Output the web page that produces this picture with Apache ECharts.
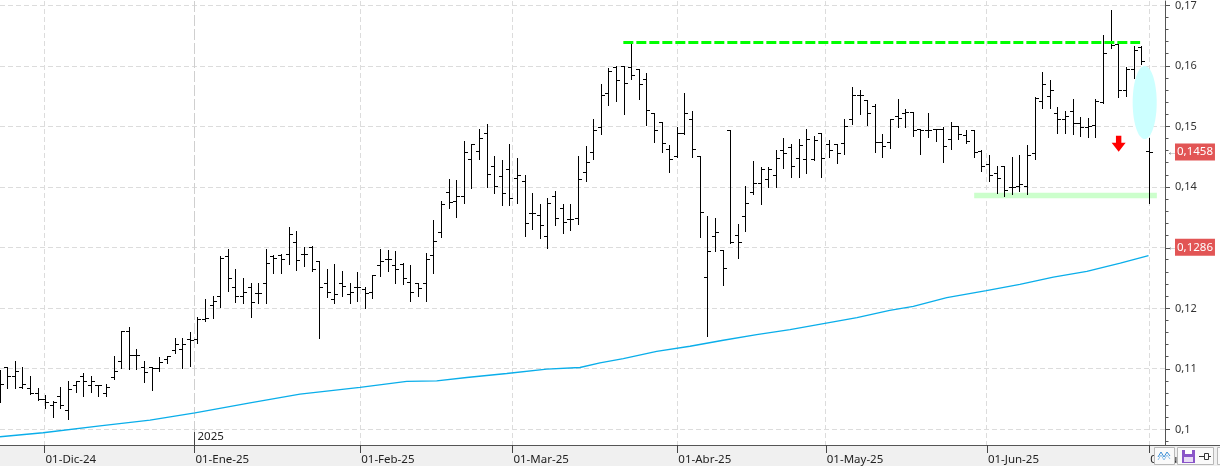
<!DOCTYPE html>
<html>
<head>
<meta charset="utf-8">
<script src="https://cdn.jsdelivr.net/npm/echarts@6/dist/echarts.min.js"></script>
<style>
html,body{margin:0;padding:0;background:#fff;}
#chart{width:1220px;height:466px;}
</style>
</head>
<body>
<div id="chart"></div>
<script>
// ---- data (bar index 0 = 22-Nov-24 ... 151 = 01-Jul-25) ----
const monthTickPos = [5.85, 25.55, 47.33, 67.33, 89, 108.5, 129.67, 151];
const monthTickLabels = ['01-Dic-24','01-Ene-25','01-Feb-25','01-Mar-25','01-Abr-25','01-May-25','01-Jun-25','01-Jul-25'];
const yTicks = [0.10, 0.11, 0.12, 0.13, 0.14, 0.15, 0.16, 0.17];

const open = [
0.1087,0.1103,0.1087,0.1070,0.1068,0.1059,0.1050,0.1040,0.1055,0.1032,
0.1072,0.1087,0.1072,0.1072,0.1059,0.1086,0.1112,0.1162,0.1123,0.1102,
0.1102,0.1101,0.1116,0.1131,0.1132,0.1148,0.1148,0.1181,0.1204,0.1220,
0.1286,0.1235,0.1219,0.1235,0.1225,0.1241,0.1285,0.1288,0.1289,0.1309,
0.1289,0.1301,0.1278,0.1241,0.1215,0.1241,0.1223,0.1235,0.1231,0.1227,
0.1270,0.1280,0.1270,0.1273,0.1243,0.1241,0.1241,0.1287,0.1325,0.1391,
0.1376,0.1385,0.1445,0.1459,0.1488,0.1434,0.1418,0.1430,0.1414,0.1409,
0.1357,0.1353,0.1318,0.1384,0.1365,0.1347,0.1348,0.1424,0.1457,0.1498,
0.1554,0.1597,0.1600,0.1597,0.1595,0.1578,0.1522,0.1507,0.1462,0.1451,
0.1488,0.1511,0.1451,0.1251,0.1319,0.1295,0.1493,0.1320,0.1351,0.1392,
0.1406,0.1413,0.1419,0.1460,0.1465,0.1448,0.1446,0.1445,0.1488,0.1470,
0.1470,0.1473,0.1511,0.1552,0.1543,0.1533,0.1474,0.1474,0.1516,0.1521,
0.1524,0.1496,0.1493,0.1495,0.1495,0.1478,0.1500,0.1485,0.1494,0.1459,
0.1438,0.1422,0.1434,0.1399,0.1401,0.1401,0.1455,0.1541,0.1550,0.1521,
0.1511,0.1525,0.1506,0.1499,0.1502,0.1540,0.1638,0.1636,0.1559,0.1595,
0.1631,0.1459];
const high = [
0.1098,0.1103,0.1112,0.1103,0.1088,0.1068,0.1057,0.1046,0.1070,0.1079,
0.1079,0.1093,0.1087,0.1073,0.1075,0.1121,0.1162,0.1169,0.1132,0.1113,
0.1102,0.1119,0.1121,0.1150,0.1150,0.1161,0.1185,0.1215,0.1220,0.1285,
0.1297,0.1264,0.1249,0.1241,0.1241,0.1298,0.1287,0.1289,0.1334,0.1327,
0.1301,0.1302,0.1278,0.1265,0.1273,0.1261,0.1241,0.1259,0.1235,0.1255,
0.1297,0.1295,0.1294,0.1274,0.1270,0.1241,0.1290,0.1345,0.1376,0.1413,
0.1411,0.1475,0.1471,0.1495,0.1504,0.1450,0.1444,0.1471,0.1447,0.1419,
0.1389,0.1371,0.1382,0.1393,0.1371,0.1371,0.1450,0.1467,0.1511,0.1569,
0.1596,0.1599,0.1600,0.1639,0.1595,0.1587,0.1522,0.1507,0.1469,0.1498,
0.1555,0.1525,0.1451,0.1351,0.1348,0.1296,0.1493,0.1339,0.1402,0.1442,
0.1432,0.1432,0.1460,0.1480,0.1470,0.1478,0.1496,0.1483,0.1489,0.1477,
0.1471,0.1511,0.1564,0.1560,0.1543,0.1536,0.1487,0.1511,0.1544,0.1529,
0.1524,0.1496,0.1521,0.1496,0.1499,0.1507,0.1500,0.1493,0.1494,0.1460,
0.1452,0.1434,0.1434,0.1449,0.1452,0.1469,0.1548,0.1590,0.1577,0.1531,
0.1525,0.1544,0.1515,0.1513,0.1545,0.1651,0.1691,0.1637,0.1598,0.1632,
0.1632,0.1481];
const low = [
0.1046,0.1069,0.1069,0.1069,0.1059,0.1050,0.1037,0.1021,0.1036,0.1019,
0.1062,0.1056,0.1062,0.1057,0.1056,0.1084,0.1102,0.1101,0.1101,0.1079,
0.1066,0.1098,0.1110,0.1127,0.1102,0.1105,0.1143,0.1180,0.1185,0.1203,
0.1230,0.1212,0.1209,0.1187,0.1209,0.1209,0.1260,0.1260,0.1274,0.1264,
0.1270,0.1262,0.1152,0.1219,0.1209,0.1222,0.1209,0.1213,0.1202,0.1218,
0.1254,0.1262,0.1242,0.1241,0.1213,0.1222,0.1213,0.1260,0.1318,0.1366,
0.1352,0.1375,0.1400,0.1448,0.1402,0.1391,0.1371,0.1371,0.1375,0.1321,
0.1332,0.1317,0.1301,0.1338,0.1326,0.1330,0.1340,0.1411,0.1448,0.1488,
0.1536,0.1543,0.1521,0.1580,0.1547,0.1504,0.1476,0.1459,0.1426,0.1450,
0.1488,0.1450,0.1319,0.1156,0.1296,0.1240,0.1308,0.1284,0.1328,0.1389,
0.1373,0.1402,0.1401,0.1432,0.1417,0.1417,0.1424,0.1445,0.1418,0.1450,
0.1441,0.1455,0.1506,0.1521,0.1504,0.1459,0.1451,0.1466,0.1501,0.1501,
0.1485,0.1456,0.1483,0.1477,0.1442,0.1464,0.1480,0.1474,0.1450,0.1427,
0.1411,0.1392,0.1386,0.1390,0.1394,0.1390,0.1447,0.1531,0.1531,0.1491,
0.1491,0.1488,0.1486,0.1484,0.1484,0.1540,0.1631,0.1550,0.1551,0.1581,
0.1605,0.1375];
const close = [
0.1075,0.1088,0.1095,0.1075,0.1059,0.1050,0.1044,0.1045,0.1039,0.1066,
0.1079,0.1080,0.1079,0.1072,0.1070,0.1095,0.1162,0.1123,0.1123,0.1094,
0.1101,0.1110,0.1121,0.1141,0.1141,0.1147,0.1181,0.1184,0.1212,0.1283,
0.1249,0.1219,0.1226,0.1209,0.1224,0.1274,0.1282,0.1281,0.1322,0.1279,
0.1289,0.1264,0.1235,0.1227,0.1223,0.1236,0.1226,0.1235,0.1225,0.1255,
0.1278,0.1280,0.1264,0.1250,0.1226,0.1233,0.1281,0.1310,0.1371,0.1375,
0.1385,0.1457,0.1471,0.1480,0.1421,0.1402,0.1389,0.1382,0.1420,0.1340,
0.1356,0.1336,0.1373,0.1348,0.1342,0.1347,0.1412,0.1440,0.1493,0.1551,
0.1591,0.1577,0.1572,0.1585,0.1569,0.1526,0.1494,0.1473,0.1446,0.1488,
0.1522,0.1462,0.1358,0.1294,0.1325,0.1266,0.1309,0.1308,0.1373,0.1406,
0.1429,0.1429,0.1447,0.1455,0.1434,0.1469,0.1479,0.1477,0.1448,0.1461,
0.1455,0.1501,0.1551,0.1551,0.1522,0.1474,0.1467,0.1511,0.1513,0.1524,
0.1494,0.1494,0.1494,0.1495,0.1467,0.1500,0.1487,0.1476,0.1458,0.1434,
0.1419,0.1415,0.1395,0.1399,0.1404,0.1452,0.1547,0.1569,0.1559,0.1512,
0.1516,0.1506,0.1498,0.1501,0.1542,0.1621,0.1634,0.1559,0.1595,0.1625,
0.1607,0.1458];

// moving average read at [bar index, value]
const maPoints = [
[0,0.09881],[5.65,0.09947],[13.14,0.10062],[19.71,0.10156],[25.62,0.10276],
[32.85,0.10441],[39.42,0.10584],[47.3,0.10695],[53.44,0.10794],[57.38,0.10803],
[61.32,0.10859],[66.58,0.10925],[71.83,0.10996],[76.2,0.11024],[78.83,0.11100],
[81.9,0.11172],[86.28,0.11292],[90.66,0.11375],[95.03,0.11474],[99.42,0.11568],
[103.8,0.11650],[108.2,0.11749],[112.6,0.11848],[116.9,0.11968],[120.0,0.12034],
[124.4,0.12177],[129.6,0.12292],[134.0,0.12396],[138.4,0.12516],[142.8,0.12610],
[147.2,0.12747],[150.9,0.12869]];

const resistance = [[81.9,0.1639],[149.8,0.1639]];
const support = [[128.0,0.13862],[152.0,0.13862]];
const highlightEllipse = [[150.4,0.15399,1.58,0.00604]]; // x, y, half-width, half-height
const downArrow = [[146.98,0.1485]];
const priceTags = [
  {value:0.1458, label:'0,1458', shift:0},
  {value:0.1286, label:'0,1286', shift:-9}
];
const yearLabel = {x:25.55, text:'2025'};

// ---- chart ----
const Y_MIN = 0.097447, Y_MAX = 0.170741, X_MIN = 0, X_MAX = 153.07;
const FONT = 'Noto Sans';
const minorTicks = [];
for (let k = 49; k <= 85; k++) { if (k % 5 !== 0) minorTicks.push(k * 0.002); }
const fmtY = v => (Math.round(v * 100) / 100).toString().replace('.', ',');

const chart = echarts.init(document.getElementById('chart'), null, {renderer:'canvas'});

const ohlcData = open.map((o, k) => [k, o, high[k], low[k], close[k]]);

function crisp(v){ return Math.floor(v) + 0.5; }

const option = {
  animation:false,
  backgroundColor:'#ffffff',
  grid:{left:0, right:55, top:0, bottom:21, containLabel:false},
  xAxis:{
    type:'value', min:X_MIN, max:X_MAX, z:10,
    axisLine:{show:true, onZero:false, lineStyle:{color:'#555', width:1}},
    splitLine:{show:false},
    axisTick:{show:true, customValues:monthTickPos, length:8, lineStyle:{color:'#444'}},
    axisLabel:{
      customValues:monthTickPos, align:'left', margin:9,
      color:'#222', fontFamily:FONT, fontSize:11.5, padding:[0,0,0,1],
      formatter:(v) => {
        let best = 0;
        monthTickPos.forEach((p, i) => { if (Math.abs(p - v) < Math.abs(monthTickPos[best] - v)) best = i; });
        return monthTickLabels[best];
      }
    }
  },
  yAxis:{
    type:'value', position:'right', min:Y_MIN, max:Y_MAX,
    axisLine:{show:true, onZero:false, lineStyle:{color:'#555', width:1}},
    splitLine:{show:false},
    axisTick:{show:true, customValues:yTicks, length:5, lineStyle:{color:'#555'}},
    axisLabel:{customValues:yTicks, formatter:fmtY, margin:10, color:'#333', fontFamily:FONT, fontSize:11}
  },
  series:[
    { // horizontal grid
      type:'custom', z:1, silent:true, clip:true,
      data: yTicks.map(v => [X_MIN, v]),
      renderItem:(params, api) => {
        const p = api.coord([X_MIN, api.value(1)]);
        const cs = params.coordSys, y = crisp(p[1]);
        return {type:'line', shape:{x1:cs.x, y1:y, x2:cs.x + cs.width, y2:y},
          style:{stroke:'#dcdcdc', lineWidth:1, lineDash:[5,3]}};
      }
    },
    { // vertical month grid
      type:'custom', z:1, silent:true, clip:true,
      data: monthTickPos.map(v => [v, Y_MIN]),
      renderItem:(params, api) => {
        const p = api.coord([api.value(0), Y_MIN]);
        const cs = params.coordSys, x = crisp(p[0]);
        const isYear = params.dataIndex === 1;
        return {type:'line', shape:{x1:x, y1:cs.y, x2:x, y2:cs.y + cs.height},
          style:{stroke: isYear ? '#cfcfcf' : '#dcdcdc', lineWidth:1, lineDash: isYear ? [11,3] : [5,3]}};
      }
    },
    { // minor ticks on the price axis
      type:'custom', z:6, silent:true, clip:false,
      data: minorTicks.map(v => [X_MAX, v]),
      renderItem:(params, api) => {
        const p = api.coord([X_MAX, api.value(1)]);
        const cs = params.coordSys, y = crisp(p[1]), x = cs.x + cs.width;
        return {type:'line', shape:{x1:x, y1:y, x2:x + 3.5, y2:y}, style:{stroke:'#555', lineWidth:1}};
      }
    },
    { // support zone
      type:'line', z:2, data:support, symbol:'none', silent:true,
      lineStyle:{color:'#ccffcc', width:5.5}
    },
    { // OHLC bars
      type:'custom', z:3, clip:true,
      data: ohlcData,
      encode:{x:0, y:[1,2,3,4]},
      renderItem:(params, api) => {
        const i = api.value(0);
        const pO = api.coord([i, api.value(1)]);
        const pH = api.coord([i, api.value(2)]);
        const pL = api.coord([i, api.value(3)]);
        const pC = api.coord([i, api.value(4)]);
        if (![pO[1], pH[1], pL[1], pC[1], pH[0]].every(isFinite)) return null;
        const x = crisp(pH[0]);
        const yo = crisp(pO[1]), yc = crisp(pC[1]);
        const st = {stroke:'#000', lineWidth:1};
        return {type:'group', children:[
          {type:'line', shape:{x1:x, y1:Math.floor(pH[1]), x2:x, y2:Math.ceil(pL[1]) + 1}, style:st},
          {type:'line', shape:{x1:x - 3.5, y1:yo, x2:x, y2:yo}, style:st},
          {type:'line', shape:{x1:x, y1:yc, x2:x + 3.5, y2:yc}, style:st}
        ]};
      }
    },
    { // moving average
      type:'line', z:4, data:maPoints, symbol:'none', silent:true,
      lineStyle:{color:'#0aaeea', width:1.3}
    },
    { // resistance dashed line
      type:'line', z:5, data:resistance, symbol:'none', silent:true,
      lineStyle:{color:'#00ff00', width:3, type:[10,3]}
    },
    { // highlight ellipse
      type:'custom', z:5, silent:true,
      data: highlightEllipse,
      renderItem:(params, api) => {
        const c = api.coord([api.value(0), api.value(1)]);
        const rx = api.size([api.value(2), 0])[0];
        const ry = api.size([0, api.value(3)])[1];
        const pts = [];
        for (let k = 0; k < 72; k++) {
          const a = k / 72 * Math.PI * 2;
          pts.push([c[0] + rx * Math.cos(a), c[1] + ry * Math.sin(a)]);
        }
        return {type:'polygon', shape:{points:pts}, style:{fill:'#ccffff'}};
      }
    },
    { // red down arrow
      type:'custom', z:5, silent:true,
      data: downArrow,
      renderItem:(params, api) => {
        const t = api.coord([api.value(0), api.value(1)]);
        const x = t[0], y = t[1];
        return {type:'polygon', shape:{points:[
          [x - 2.7, y], [x + 2.7, y], [x + 2.7, y + 7], [x + 7, y + 7],
          [x, y + 16], [x - 7, y + 7], [x - 2.7, y + 7]
        ]}, style:{fill:'#ff0000'}};
      }
    }
  ]
};
chart.setOption(option);

// price tags, bottom band, year marker, toolbar buttons
const axisRight = chart.convertToPixel({xAxisIndex:0}, X_MAX);
const tagGraphics = [];
priceTags.forEach(t => {
  const py = chart.convertToPixel({yAxisIndex:0}, t.value) + t.shift;
  tagGraphics.push({type:'text', z:50, silent:true, x:axisRight + 2, y:py,
    style:{text:'\u2190', fill:'#555', font:'10px "Noto Sans"', textVerticalAlign:'middle'}});
  tagGraphics.push({type:'text', z:50, silent:true, x:axisRight + 10, y:py,
    style:{text:t.label, fill:'#ffffff', font:'11.5px "Noto Sans"', textVerticalAlign:'middle',
      backgroundColor:'#e25555', padding:[3,2,2,2]}});
});
const yx = crisp(chart.convertToPixel({xAxisIndex:0}, yearLabel.x));
chart.setOption({
  graphic:[
    {type:'rect', z:-1, silent:true, shape:{x:0, y:446, width:1220, height:20}, style:{fill:'#f0f0f0'}},
    {type:'line', z:-1, silent:true, shape:{x1:0, y1:445.5, x2:1220, y2:445.5}, style:{stroke:'#555', lineWidth:1}},
    {type:'line', z:20, silent:true, shape:{x1:yx, y1:432, x2:yx, y2:446}, style:{stroke:'#444', lineWidth:1}},
    {type:'text', z:20, silent:true, x:yx + 3, y:431, style:{text:yearLabel.text, fill:'#222', font:'11.5px "Noto Sans"', textVerticalAlign:'top'}},
    ...tagGraphics,
    {type:'rect', z:100, silent:true, shape:{x:1154.5, y:447.5, width:20, height:17}, style:{fill:'#fafafa', stroke:'#b9b9b9', lineWidth:1}},
    {type:'polyline', z:101, silent:true, shape:{points:[[1158,457],[1161,452],[1164,457],[1167,452],[1170,456]]}, style:{stroke:'#3d8fd6', lineWidth:1, fill:null}},
    {type:'polyline', z:101, silent:true, shape:{points:[[1158,460],[1161,455],[1164,460],[1167,455],[1170,459]]}, style:{stroke:'#8fc0ea', lineWidth:1, fill:null}},
    {type:'rect', z:100, silent:true, shape:{x:1177.5, y:447.5, width:36, height:17}, style:{fill:'#fafafa', stroke:'#b9b9b9', lineWidth:1}},
    {type:'rect', z:101, silent:true, shape:{x:1182, y:450, width:13, height:13}, style:{fill:'#8a56c8'}},
    {type:'rect', z:102, silent:true, shape:{x:1185, y:450, width:7, height:4}, style:{fill:'#ffffff'}},
    {type:'rect', z:102, silent:true, shape:{x:1184, y:457, width:9, height:5}, style:{fill:'#e8dcf5'}},
    {type:'line', z:101, silent:true, shape:{x1:1199, y1:456.5, x2:1204, y2:456.5}, style:{stroke:'#333', lineWidth:1}},
    {type:'rect', z:101, silent:true, shape:{x:1204.5, y:453.5, width:4, height:6}, style:{fill:'none', stroke:'#333', lineWidth:1}},
    {type:'line', z:101, silent:true, shape:{x1:1209, y1:456.5, x2:1211, y2:456.5}, style:{stroke:'#333', lineWidth:1}},
    {type:'rect', z:100, silent:true, shape:{x:1217.5, y:447.5, width:10, height:17}, style:{fill:'#fafafa', stroke:'#b9b9b9', lineWidth:1}}
  ]
});
</script>
</body>
</html>
